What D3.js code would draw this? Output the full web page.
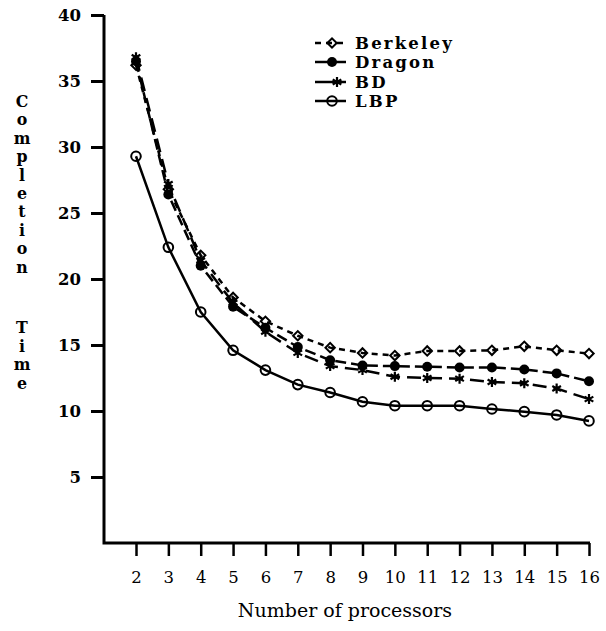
<!DOCTYPE html>
<html>
<head>
<meta charset="utf-8">
<script src="https://cdn.jsdelivr.net/npm/d3@7"></script>
<style>
  html, body { margin: 0; padding: 0; background: #fff; }
  svg { display: block; }
  text { font-family: "DejaVu Serif", "Liberation Serif", serif; fill: #000; }
</style>
</head>
<body>
<script>
// Completion time versus number of processors for four schedulers
const processors = [2, 3, 4, 5, 6, 7, 8, 9, 10, 11, 12, 13, 14, 15, 16];
const berkeley = [36.2, 26.8, 21.8, 18.6, 16.8, 15.7, 14.8, 14.4, 14.2, 14.55, 14.55, 14.6, 14.9, 14.6, 14.35];
const dragon   = [36.5, 26.4, 21.0, 17.9, 16.3, 14.85, 13.85, 13.45, 13.4, 13.35, 13.3, 13.3, 13.15, 12.85, 12.25];
const bd       = [36.8, 27.2, 21.4, 18.2, 16.0, 14.4, 13.4, 13.1, 12.6, 12.5, 12.45, 12.2, 12.1, 11.7, 10.9];
const lbp      = [29.3, 22.4, 17.5, 14.6, 13.1, 12.0, 11.4, 10.7, 10.4, 10.4, 10.4, 10.15, 9.95, 9.7, 9.25];
const seriesNames = ["Berkeley", "Dragon", "BD", "LBP"];
const yTicks = [5, 10, 15, 20, 25, 30, 35, 40];
const yTitleTop = "Completion";
const yTitleBottom = "Time";
const xTitle = "Number of processors";

const W = 606, H = 631;
const svg = d3.select("body").append("svg").attr("width", W).attr("height", H);

const axisX0 = 104, axisY0 = 543;
const x = d3.scaleLinear().domain([2, 16]).range([136, 589]);
const y = d3.scaleLinear().domain([0, 40]).range([543, 15]);

// axis frame (L shape)
svg.append("path")
  .attr("d", `M${axisX0},${y(40)}V${axisY0}H${x(16) + 1}`)
  .attr("fill", "none").attr("stroke", "#000").attr("stroke-width", 3);

const yAxis = svg.append("g").attr("transform", `translate(${axisX0},0)`)
  .call(d3.axisLeft(y).tickValues(yTicks).tickSize(13).tickSizeOuter(0).tickPadding(10));
yAxis.select(".domain").remove();
yAxis.selectAll(".tick line").attr("stroke", "#000").attr("stroke-width", 3);
yAxis.selectAll(".tick text").style("font-size", "16.5px").style("font-weight", "bold")
  .style("font-family", "'DejaVu Serif', serif");

const xAxis = svg.append("g").attr("transform", `translate(0,${axisY0})`)
  .call(d3.axisBottom(x).tickValues(processors).tickFormat(d3.format("d")).tickSize(13).tickSizeOuter(0).tickPadding(15));
xAxis.select(".domain").remove();
xAxis.selectAll(".tick line").attr("stroke", "#000").attr("stroke-width", 2.5);
xAxis.selectAll(".tick text").style("font-size", "16.5px")
  .style("font-family", "'DejaVu Serif', serif");

// stacked vertical y title
const titleX = 22;
yTitleTop.split("").forEach((ch, i) => {
  svg.append("text").attr("x", titleX).attr("y", 107 + i * 18.4)
    .attr("text-anchor", "middle").style("font-size", "15.8px").style("font-weight", "bold").text(ch);
});
yTitleBottom.split("").forEach((ch, i) => {
  svg.append("text").attr("x", titleX).attr("y", 333 + i * 18.6)
    .attr("text-anchor", "middle").style("font-size", "15.8px").style("font-weight", "bold").text(ch);
});

svg.append("text").attr("x", 345).attr("y", 617).attr("text-anchor", "middle")
  .style("font-size", "19px").text(xTitle);

// series styling
const styles = {
  Berkeley: { values: berkeley, dash: "6,5", marker: "diamond" },
  Dragon:   { values: dragon,   dash: "11,5", marker: "dot" },
  BD:       { values: bd,       dash: "14,7", marker: "star" },
  LBP:      { values: lbp,      dash: null,   marker: "circle" }
};

function drawMarker(g, kind, cx, cy) {
  if (kind === "diamond") {
    g.append("path").attr("d", d3.symbol(d3.symbolSquare, 44)())
      .attr("transform", `translate(${cx},${cy}) rotate(45)`)
      .attr("fill", "none").attr("stroke", "#000").attr("stroke-width", 2);
  } else if (kind === "dot") {
    g.append("circle").attr("cx", cx).attr("cy", cy).attr("r", 5).attr("fill", "#000");
  } else if (kind === "star") {
    g.append("path").attr("d", d3.symbol(d3.symbolAsterisk, 70)())
      .attr("transform", `translate(${cx},${cy})`)
      .attr("fill", "none").attr("stroke", "#000").attr("stroke-width", 2.2);
  } else {
    g.append("circle").attr("cx", cx).attr("cy", cy).attr("r", 4.8)
      .attr("fill", "none").attr("stroke", "#000").attr("stroke-width", 2);
  }
}

const line = d3.line().x(d => x(d[0])).y(d => y(d[1]));

seriesNames.forEach(name => {
  const s = styles[name];
  const pts = processors.map((p, i) => [p, s.values[i]]);
  const g = svg.append("g");
  g.append("path").attr("d", line(pts)).attr("fill", "none")
    .attr("stroke", "#000").attr("stroke-width", 2.5)
    .attr("stroke-dasharray", s.dash);
  pts.forEach(d => drawMarker(g, s.marker, x(d[0]), y(d[1])));
});

// legend
const legendRows = [43, 62, 82, 101];
seriesNames.forEach((name, i) => {
  const s = styles[name];
  const g = svg.append("g");
  const ly = legendRows[i];
  g.append("line").attr("x1", 315).attr("x2", 346).attr("y1", ly).attr("y2", ly)
    .attr("stroke", "#000").attr("stroke-width", 2.5)
    .attr("stroke-dasharray", name === "Berkeley" ? "6,5" : null);
  drawMarker(g, s.marker, name === "BD" ? 337 : 332, ly);
  g.append("text").attr("x", 355).attr("y", ly + 6)
    .style("font-size", "16.5px").style("font-weight", "bold")
    .style("letter-spacing", "2.2px").text(name);
});
</script>
</body>
</html>
